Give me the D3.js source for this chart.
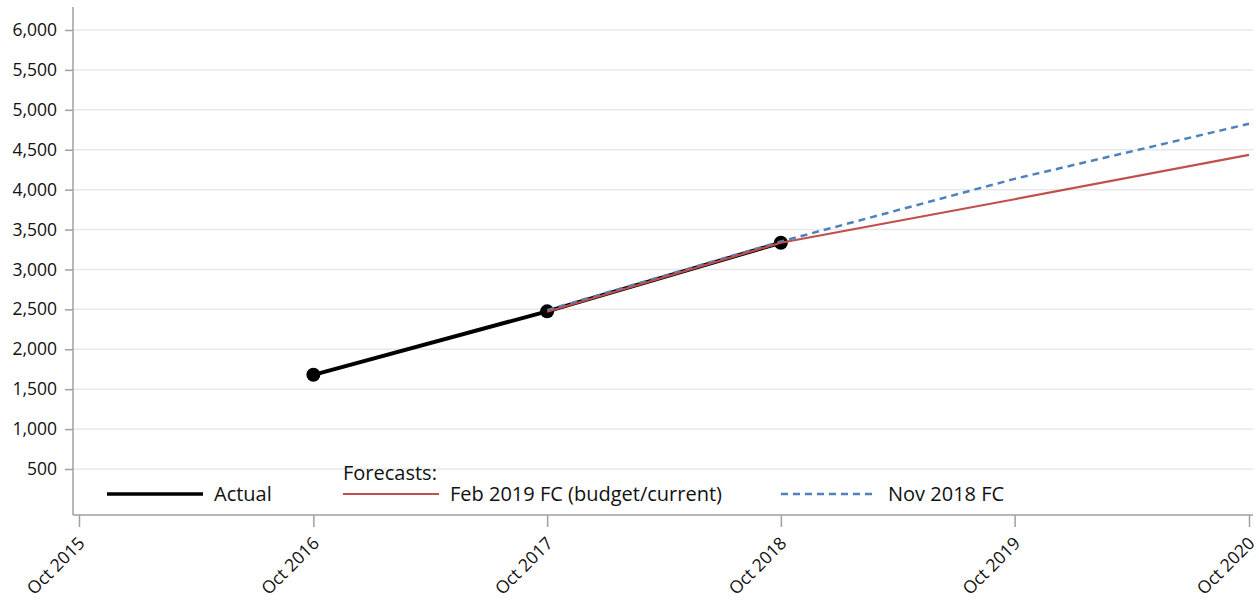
<!DOCTYPE html>
<html>
<head>
<meta charset="utf-8">
<script src="https://cdn.jsdelivr.net/npm/d3@7"></script>
<style>
  body { margin: 0; background: #fff; }
  svg text { font-family: "Open Sans", "Noto Sans", sans-serif; }
</style>
</head>
<body>
<svg id="chart"></svg>
<script>
var width = 1259, height = 603

// data
var years = ["2015-10", "2016-10", "2017-10", "2018-10", "2019-10", "2020-10"]
var actualDates = ["2016-10", "2017-10", "2018-10"]
var actualValues = [1680, 2475, 3335]
var febDates = ["2017-10", "2018-10", "2019-10", "2020-10"]
var febValues = [2470, 3335, 3880, 4435]
var novDates = ["2017-10", "2018-10", "2019-10", "2020-10"]
var novValues = [2490, 3350, 4135, 4825]
var yTicks = [500, 1000, 1500, 2000, 2500, 3000, 3500, 4000, 4500, 5000, 5500, 6000]

var parse = d3.timeParse("%Y-%m")
var plotLeft = 73, plotRight = 1253, plotTop = 7, plotBottom = 515

var svg = d3.select("#chart")
    .attr("width", width)
    .attr("height", height)

var x = d3.scaleTime()
    .domain([parse("2015-10"), parse("2020-10")])
    .range([79, 1249])

var y = d3.scaleLinear()
    .domain([500, 6000])
    .range([469, 30])

// gridlines
svg.append("g")
    .selectAll("line")
    .data(yTicks)
    .enter()
    .append("line")
        .attr("x1", plotLeft)
        .attr("x2", plotRight)
        .attr("y1", function(d) { return y(d) })
        .attr("y2", function(d) { return y(d) })
        .attr("stroke", "#e8e8e8")
        .attr("stroke-width", 1.5)

// y axis
var yAxis = svg.append("g")
    .attr("transform", "translate(" + plotLeft + ",0)")
    .call(d3.axisLeft(y).tickValues(yTicks).tickSize(8).tickPadding(8).tickFormat(d3.format(",")))
yAxis.attr("font-family", null)
yAxis.select(".domain").remove()
yAxis.append("line")
    .attr("x1", 0).attr("x2", 0)
    .attr("y1", plotTop).attr("y2", plotBottom)
    .attr("stroke", "#a0a0a0").attr("stroke-width", 1.5)
yAxis.selectAll(".tick line").attr("stroke", "#a0a0a0").attr("stroke-width", 1.5)
yAxis.selectAll("text").attr("font-size", 17.5).attr("fill", "#111")

// x axis
var xAxis = svg.append("g")
    .attr("transform", "translate(0," + plotBottom + ")")
    .call(d3.axisBottom(x).tickValues(years.map(parse)).tickSize(12).tickFormat(d3.timeFormat("Oct %Y")))
xAxis.attr("font-family", null)
xAxis.select(".domain").remove()
xAxis.append("line")
    .attr("x1", plotLeft).attr("x2", plotRight)
    .attr("y1", 0).attr("y2", 0)
    .attr("stroke", "#a0a0a0").attr("stroke-width", 1.5)
xAxis.selectAll(".tick line").attr("stroke", "#a0a0a0").attr("stroke-width", 1.5)
xAxis.selectAll("text")
    .attr("font-size", 17.5)
    .attr("fill", "#111")
    .attr("text-anchor", "end")
    .attr("dy", "0.35em")
    .attr("transform", "translate(2,25) rotate(-45)")
    .attr("y", 0)
    .attr("x", 0)

var line = d3.line()
    .x(function(d) { return x(d.date) })
    .y(function(d) { return y(d.value) })

function series(dates, values) {
    return dates.map(function(d, i) { return {date: parse(d), value: values[i]} })
}

var actual = series(actualDates, actualValues)

// actual
svg.append("path")
    .datum(actual)
    .attr("d", line)
    .attr("fill", "none")
    .attr("stroke", "#000")
    .attr("stroke-width", 4)

svg.selectAll("circle.actual")
    .data(actual)
    .enter()
    .append("circle")
        .attr("class", "actual")
        .attr("cx", function(d) { return x(d.date) })
        .attr("cy", function(d) { return y(d.value) })
        .attr("r", 7)
        .attr("fill", "#000")

// forecasts
svg.append("path")
    .datum(series(novDates, novValues))
    .attr("d", line)
    .attr("fill", "none")
    .attr("stroke", "#4f81bd")
    .attr("stroke-width", 2.5)
    .attr("stroke-dasharray", "7,5")

svg.append("path")
    .datum(series(febDates, febValues))
    .attr("d", line)
    .attr("fill", "none")
    .attr("stroke", "#c0504d")
    .attr("stroke-width", 2.2)

// legend
var legend = svg.append("g").attr("font-size", 20).attr("fill", "#111")
var items = [
    {label: "Actual", x: 107, color: "#000", w: 3.5, dash: null},
    {label: "Feb 2019 FC (budget/current)", x: 343, color: "#c0504d", w: 2.2, dash: null},
    {label: "Nov 2018 FC", x: 781, color: "#4f81bd", w: 2.5, dash: "7,5"}
]
items.forEach(function(it) {
    legend.append("line")
        .attr("x1", it.x).attr("x2", it.x + 96)
        .attr("y1", 494).attr("y2", 494)
        .attr("stroke", it.color)
        .attr("stroke-width", it.w)
        .attr("stroke-dasharray", it.dash)
    legend.append("text")
        .attr("x", it.x + 107)
        .attr("y", 501)
        .text(it.label)
})
legend.append("text")
    .attr("x", 343)
    .attr("y", 480)
    .text("Forecasts:")
</script>
</body>
</html>
